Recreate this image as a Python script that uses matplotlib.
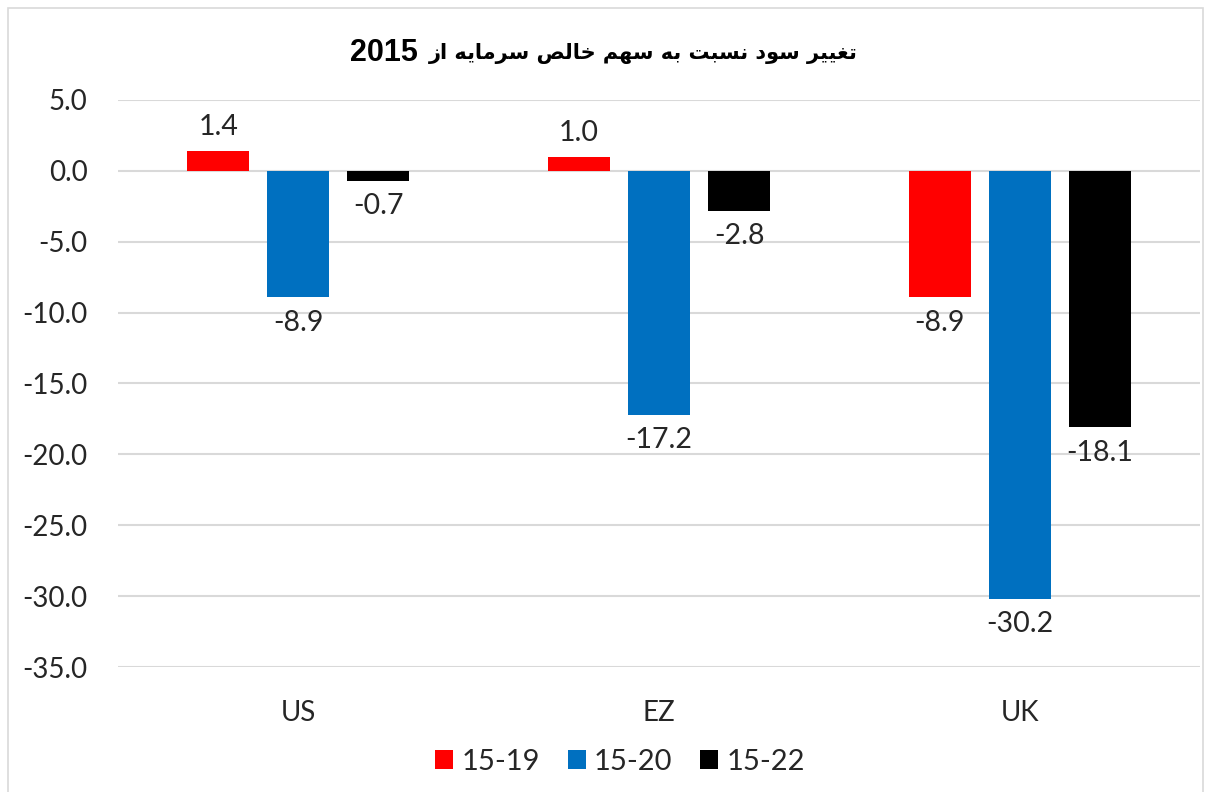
import matplotlib.pyplot as plt
import numpy as np
from matplotlib.patches import Rectangle, Patch

# data
categories = ["US", "EZ", "UK"]
series_names = ["15-19", "15-20", "15-22"]
val_15_19 = [1.4, 1.0, -8.9]
val_15_20 = [-8.9, -17.2, -30.2]
val_15_22 = [-0.7, -2.8, -18.1]
colors = ["#FF0000", "#0070C0", "#000000"]
title_fa = "تغییر سود نسبت به سهم خالص سرمایه از"
title_year = "2015"

# simple arabic/persian shaping (matplotlib has no shaping/bidi)
FORMS = {
    "ا": ("\uFE8D", "\uFE8E", None, None),
    "ب": ("\uFE8F", "\uFE90", "\uFE91", "\uFE92"),
    "ت": ("\uFE95", "\uFE96", "\uFE97", "\uFE98"),
    "خ": ("\uFEA5", "\uFEA6", "\uFEA7", "\uFEA8"),
    "د": ("\uFEA9", "\uFEAA", None, None),
    "ر": ("\uFEAD", "\uFEAE", None, None),
    "ز": ("\uFEAF", "\uFEB0", None, None),
    "س": ("\uFEB1", "\uFEB2", "\uFEB3", "\uFEB4"),
    "ص": ("\uFEB9", "\uFEBA", "\uFEBB", "\uFEBC"),
    "غ": ("\uFECD", "\uFECE", "\uFECF", "\uFED0"),
    "ل": ("\uFEDD", "\uFEDE", "\uFEDF", "\uFEE0"),
    "م": ("\uFEE1", "\uFEE2", "\uFEE3", "\uFEE4"),
    "ن": ("\uFEE5", "\uFEE6", "\uFEE7", "\uFEE8"),
    "ه": ("\uFEE9", "\uFEEA", "\uFEEB", "\uFEEC"),
    "و": ("\uFEED", "\uFEEE", None, None),
    "ی": ("\uFBFC", "\uFBFD", "\uFEF3", "\uFEF4"),
}

def shape(text):
    out = []
    for i, c in enumerate(text):
        if c not in FORMS:
            out.append(c)
            continue
        prev = text[i - 1] if i > 0 else ""
        nxt = text[i + 1] if i + 1 < len(text) else ""
        f = FORMS[c]
        jp = prev in FORMS and FORMS[prev][2] is not None
        jn = nxt in FORMS and f[2] is not None
        if jp and jn:
            out.append(f[3])
        elif jp:
            out.append(f[1])
        elif jn:
            out.append(f[2])
        else:
            out.append(f[0])
    return "".join(out)[::-1]

plt.rcParams["font.family"] = ["Lato", "DejaVu Sans"]

fig = plt.figure(figsize=(12.08, 7.92), dpi=100)
ax = fig.add_axes([118 / 1208, 1 - 667 / 792, 1082 / 1208, 567 / 792])

x = np.arange(len(categories))
offset = 0.222
width = 0.172
all_vals = [val_15_19, val_15_20, val_15_22]
for k, (vals, col, name) in enumerate(zip(all_vals, colors, series_names)):
    pos = x + (k - 1) * offset
    ax.bar(pos, vals, width, color=col, label=name, zorder=3)
    for p, v in zip(pos, vals):
        if v >= 0:
            ax.annotate(f"{v:.1f}", (p, v), xytext=(0, 8), textcoords="offset points",
                        ha="center", va="bottom", fontsize=20.5, color="#262626")
        else:
            ax.annotate(f"{v:.1f}", (p, v), xytext=(0, -9), textcoords="offset points",
                        ha="center", va="top", fontsize=20.5, color="#262626")

ax.set_xlim(-0.5, 2.5)
ax.set_ylim(-35, 5)
ax.set_yticks(np.arange(-35, 5.1, 5))
ax.yaxis.set_major_formatter(plt.FuncFormatter(lambda v, _: f"{v:.1f}"))
ax.set_xticks(x)
ax.set_xticklabels(categories)
ax.tick_params(axis="both", length=0, labelsize=20, colors="#262626")
ax.tick_params(axis="y", pad=22)
ax.tick_params(axis="x", pad=24)
ax.grid(axis="y", color="#D9D9D9", linewidth=1.5, zorder=0)
for s in ax.spines.values():
    s.set_visible(False)

# title: year on the left, persian words to its right (rtl)
ty = 1 - 53 / 792
fig.text(350 / 1208, ty, title_year, ha="left", va="center",
         fontsize=22, fontweight="bold", family="Liberation Sans")
fig.text(858 / 1208, ty, shape(title_fa), ha="right", va="center",
         fontsize=15, fontweight="bold", family="DejaVu Sans")

handles = [Patch(facecolor=c, label=n) for c, n in zip(colors, series_names)]
fig.legend(handles=handles, loc="center", bbox_to_anchor=(620 / 1208, 1 - 762 / 792), ncol=3,
           frameon=False, fontsize=21, handlelength=0.62, handleheight=0.62,
           handletextpad=0.27, columnspacing=0.96, labelcolor="#262626")

fig.patches.append(Rectangle((8 / 1208, -0.01), 1195 / 1208, 1 - 8 / 792 + 0.01,
                             transform=fig.transFigure, fill=False,
                             edgecolor="#D9D9D9", linewidth=1.2))

fig.savefig("out.png", dpi=100)
